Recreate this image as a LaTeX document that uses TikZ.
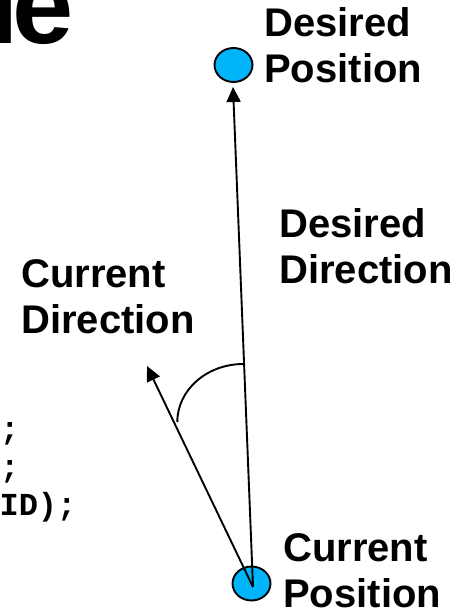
\documentclass[tikz,border=0pt]{standalone}
\usepackage{fontspec}
\setmainfont{Liberation Sans}
\newfontfamily\codefont{Liberation Mono}
\usetikzlibrary{arrows.meta,shapes.geometric}
\definecolor{dotblue}{RGB}{0,180,250}
\tikzset{
  lbl/.style={inner sep=0pt, anchor=base west, align=left,
    font=\fontsize{40}{46}\selectfont\bfseries},
  codeline/.style={inner sep=0pt, anchor=base east,
    font=\fontsize{32}{38}\selectfont\codefont\bfseries},
  posdot/.style={ellipse, draw=black, line width=1.9pt, fill=dotblue,
    minimum width=38pt, minimum height=34pt, inner sep=0pt},
  dirarrow/.style={line width=1.9pt, -{Triangle[length=15pt,width=14pt]}},
  anglearc/.style={line width=1.9pt}
}
\begin{document}
\begin{tikzpicture}[x=1pt,y=-1pt]
\useasboundingbox (0,0) rectangle (459,615);
% title fragment
\node[inner sep=0pt, anchor=base west, font=\fontsize{110}{120}\selectfont\bfseries]
  (title) at (-11.4,44) {l\kern-7.4pt e};
% code fragment
\node[codeline] (c1) at (19.6,439) {;};
\node[codeline] (c2) at (19.6,477) {;};
\node[codeline] (c3) at (76.6,515) {ID);};
% positions
\node[posdot] (des) at (233.5,65) {};
\node[posdot] (cur) at (251.5,583.5) {};
\coordinate (origin) at (253,587);
\coordinate (destip) at (233,87);
\coordinate (curtip) at (147,366);
% arrows
\draw[dirarrow] (origin) -- (destip);
\draw[dirarrow] (origin) -- (curtip);
% angle arc
\coordinate (arcstart) at (243.3,364);
\draw[anglearc] (arcstart) arc[start angle=270, end angle=180, x radius=66, y radius=58] coordinate (arcend);
% labels
\node[lbl] (ldp) at (264,83) {Desired\\Position};
\node[lbl] (ldd) at (279,283) {Desired\\Direction};
\node[lbl] (lcd) at (21,333) {Current\\Direction};
\node[lbl] (lcp) at (283,607) {Current\\Position};
\end{tikzpicture}
\end{document}
